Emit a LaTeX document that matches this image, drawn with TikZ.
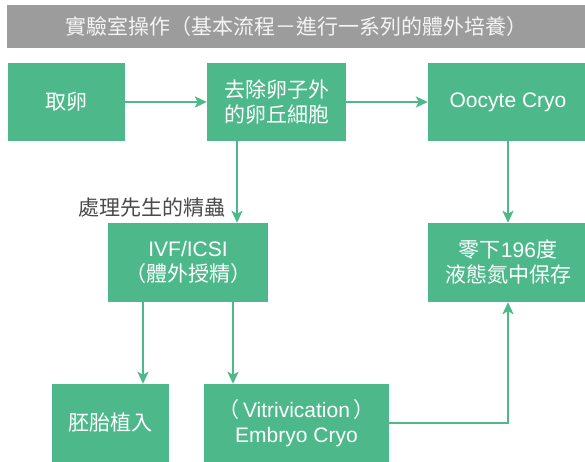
\documentclass[tikz,border=0pt]{standalone}
\usepackage{fontspec}
\setmainfont{Liberation Sans}
\newfontfamily\cjk{Noto Sans CJK TC}
\usetikzlibrary{arrows.meta}
\definecolor{boxgreen}{HTML}{4DB98B}
\definecolor{titlegray}{HTML}{9C9C9C}
\definecolor{titletext}{HTML}{F4F4F4}
\definecolor{labelgray}{HTML}{4A4A4A}
\begin{document}
\begin{tikzpicture}[x=1pt,y=1pt,
  box/.style={fill=boxgreen, text=white, inner sep=0pt, align=center,
    font=\fontsize{21}{25}\selectfont},
  conn/.style={draw=boxgreen, line width=2.2pt,
    -{Stealth[length=12pt,width=11pt,inset=3pt]}}]
\useasboundingbox (0,0) rectangle (585,462);
\fill[white] (0,0) rectangle (585,462);
\node[fill=titlegray, text=titletext, inner sep=0pt, minimum width=578, minimum height=43,
  font=\fontsize{21}{25}\selectfont] (title) at (296,435.5)
  {\cjk 實驗室操作（基本流程－進行一系列的體外培養）};
\node[box, minimum width=117, minimum height=78] (qy) at (66.5,360) {\cjk 取卵};
\node[box, minimum width=139, minimum height=78] (qc) at (276.5,360) {\cjk 去除卵子外\\\cjk 的卵丘細胞};
\node[box, minimum width=160, minimum height=78] (oc) at (508,360) {Oocyte Cryo};
\node[box, minimum width=160, minimum height=79] (ivf) at (188,199.5) {IVF/ICSI\\\cjk （體外授精）};
\node[box, minimum width=160, minimum height=79] (ln) at (508,199.5) {{\cjk 零下}196{\cjk 度}\\\cjk 液態氮中保存};
\node[box, minimum width=117, minimum height=78] (et) at (110.5,39) {\cjk 胚胎植入};
\node[box, minimum width=185, minimum height=78] (vc) at (296.5,39) {{\cjk （}\,Vitrivication\,{\cjk ）}\\Embryo Cryo};
\node[anchor=east, text=labelgray, inner sep=0pt, font=\fontsize{21}{25}\selectfont] (lab) at (226,254) {\cjk 處理先生的精蟲};
\coordinate (xa) at (237,0);
\coordinate (xb) at (143,0);
\coordinate (xc) at (233,0);
\coordinate (xd) at (508,0);
\draw[conn] (qy.east) -- (qc.west);
\draw[conn] (qc.east) -- (oc.west);
\draw[conn] (qc.south -| xa) -- (ivf.north -| xa);
\draw[conn] (oc.south) -- (ln.north);
\draw[conn] (ivf.south -| xb) -- (et.north -| xb);
\draw[conn] (ivf.south -| xc) -- (vc.north -| xc);
\draw[conn] (vc.east) -| (ln.south -| xd);
\end{tikzpicture}
\end{document}
